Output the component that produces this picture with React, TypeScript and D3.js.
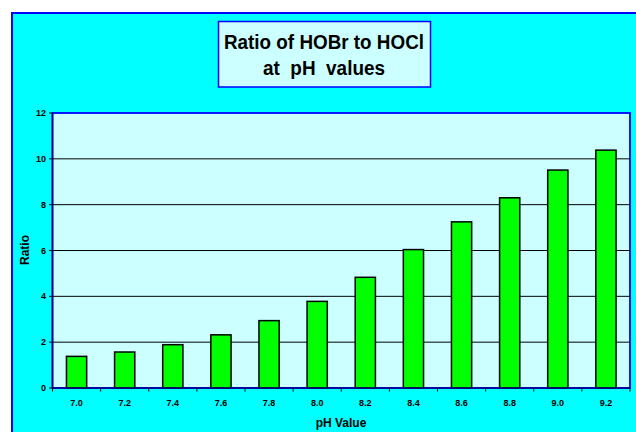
import React from "react";
import * as d3 from "d3";

const categories = ["7.0", "7.2", "7.4", "7.6", "7.8", "8.0", "8.2", "8.4", "8.6", "8.8", "9.0", "9.2"];
const ratios = [1.38, 1.57, 1.89, 2.32, 2.94, 3.78, 4.83, 6.04, 7.25, 8.3, 9.51, 10.38];
const yTicks = [0, 2, 4, 6, 8, 10, 12];
const titleLines = ["Ratio of HOBr to HOCl", "at  pH  values"];
const xTitle = "pH Value";
const yTitle = "Ratio";

export default function App() {
  const W = 636, H = 432;
  const left = 52.5, right = 630, top = 113, bottom = 388;
  const x = d3.scaleBand().domain(categories).range([left, right]).paddingInner(0.58).paddingOuter(0.29);
  const xb = d3.scaleBand().domain(categories).range([left, right]);
  const y = d3.scaleLinear().domain([0, 12]).range([bottom, top]);
  const font = "'Liberation Sans', Arial, sans-serif";
  const titleLens = [200, 122];
  return (
    <svg width={W} height={H} style={{ position: "absolute", left: 0, top: 0 }}>
      <rect x={0} y={0} width={W} height={H} fill="#ffffff" />
      <rect x={12} y={13} width={640} height={440} fill="#00ffff" stroke="#0000ff" strokeWidth={2} />
      <rect x={218.5} y={21.5} width={212} height={65.5} fill="#ccffff" stroke="#0000ff" strokeWidth={1.5} />
      {titleLines.map((t, i) => (
        <text key={i} x={324} y={49 + i * 25.5} textAnchor="middle" fontFamily={font} fontWeight="bold" fontSize={20}
          fill="#000" xmlSpace="preserve" style={{ whiteSpace: "pre" }} textLength={titleLens[i]} lengthAdjust="spacingAndGlyphs">
          {t}
        </text>
      ))}
      <rect x={left} y={top} width={right - left} height={bottom - top} fill="#ccffff" stroke="#0000ff" strokeWidth={1.8} />
      {yTicks.filter(t => t > 0 && t < 12).map(t => (
        <line key={t} x1={left} x2={right} y1={y(t)} y2={y(t)} stroke="#000" strokeWidth={1} />
      ))}
      {categories.map((c, i) => (
        <rect key={c} x={x(c)} y={y(ratios[i])} width={x.bandwidth()} height={bottom - y(ratios[i])} fill="#00ff00" stroke="#000" strokeWidth={1.5} />
      ))}
      <line x1={left} x2={left} y1={top} y2={bottom} stroke="#000080" strokeWidth={1.5} />
      <line x1={left} x2={right} y1={bottom} y2={bottom} stroke="#000080" strokeWidth={1.5} />
      {yTicks.map(t => (
        <g key={t}>
          <line x1={left - 3.5} x2={left} y1={y(t)} y2={y(t)} stroke="#000" strokeWidth={1} />
          <text x={46} y={y(t) + 3} textAnchor="end" fontFamily={font} fontWeight="bold" fontSize={9} fill="#000">{t}</text>
        </g>
      ))}
      {categories.map((c, i) => (
        <g key={c}>
          <line x1={xb(c)!} x2={xb(c)!} y1={bottom} y2={bottom + 3.5} stroke="#000" strokeWidth={1} />
          <text x={xb(c)! + xb.bandwidth() / 2} y={406} textAnchor="middle" fontFamily={font} fontWeight="bold" fontSize={9} fill="#000">{c}</text>
        </g>
      ))}
      <line x1={right} x2={right} y1={bottom} y2={bottom + 3.5} stroke="#000" strokeWidth={1} />
      <text x={341} y={427} textAnchor="middle" fontFamily={font} fontWeight="bold" fontSize={12} fill="#000">{xTitle}</text>
      <text transform={`translate(29,250) rotate(-90)`} textAnchor="middle" fontFamily={font} fontWeight="bold" fontSize={12} fill="#000">{yTitle}</text>
    </svg>
  );
}
